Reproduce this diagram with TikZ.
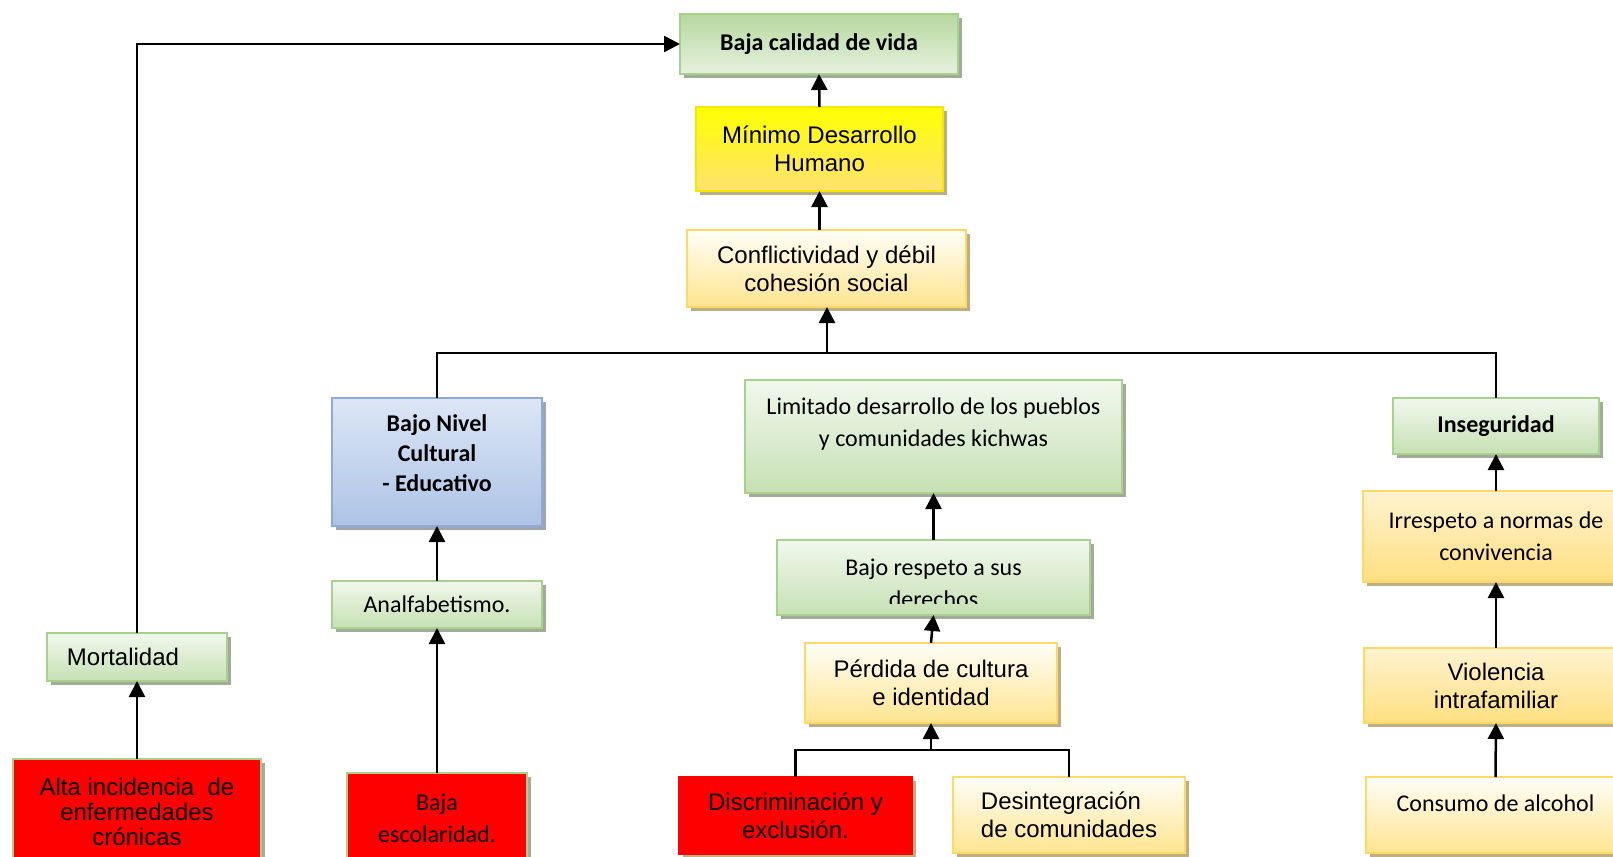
\documentclass[tikz,border=0pt]{standalone}
\usepackage{fontspec}
\setmainfont{Liberation Sans}
\newfontfamily\calfont{Carlito}
\usetikzlibrary{shadows,arrows.meta}

\definecolor{gbord}{HTML}{A9D18E}
\definecolor{gtop}{HTML}{F1F8ED}
\definecolor{gbot}{HTML}{C6E0B4}
\definecolor{gshad}{HTML}{A2AB97}
\definecolor{ybord}{HTML}{FFD966}
\definecolor{otop}{HTML}{FFFEF8}
\definecolor{obot}{HTML}{FFE48F}
\definecolor{o2top}{HTML}{FFF3D0}
\definecolor{o2bot}{HTML}{FFDF80}
\definecolor{yshad}{HTML}{BDAE84}
\definecolor{mtop}{HTML}{FFFF00}
\definecolor{mbot}{HTML}{FFE270}
\definecolor{mbord}{HTML}{F5E800}
\definecolor{btop}{HTML}{DCE6F5}
\definecolor{bbot}{HTML}{ADC3E6}
\definecolor{bbord}{HTML}{8EAADB}
\definecolor{bshad}{HTML}{9FA6B2}
\definecolor{rfill}{HTML}{FF0000}
\definecolor{grtop}{HTML}{B6D89F}
\definecolor{grbot}{HTML}{E6F1DF}

\newcommand\bx[7]{\node[#6, minimum width={(#4-#2)*0.5pt}, minimum height={(#5-#3)*0.5pt}] (#1) at ({(#2+#4)/2},{(#3+#5)/2}) {#7};}

\tikzset{
  basebox/.style={draw, line width=1pt, inner sep=0pt, outer sep=0pt, align=center,
    font=\fontsize{12}{14}\selectfont},
  cal/.style={font=\calfont\fontsize{12}{16}\selectfont},
  calbold/.style={font=\calfont\bfseries\fontsize{12}{15}\selectfont},
  gshadow/.style={drop shadow={shadow xshift=2pt, shadow yshift=-2pt, fill=gshad, opacity=1}},
  yshadow/.style={drop shadow={shadow xshift=2pt, shadow yshift=-2pt, fill=yshad, opacity=1}},
  gbox/.style={basebox, draw=gbord, top color=gtop, bottom color=gbot, gshadow},
  gboxr/.style={basebox, draw=gbord, top color=grtop, bottom color=grbot, gshadow},
  obox/.style={basebox, draw=ybord, top color=otop, bottom color=obot, yshadow},
  oboxb/.style={basebox, draw=ybord, top color=o2top, bottom color=o2bot, yshadow},
  ybox/.style={basebox, draw=mbord, top color=mtop, bottom color=mbot, yshadow},
  bbox/.style={basebox, draw=bbord, top color=btop, bottom color=bbot,
    drop shadow={shadow xshift=2pt, shadow yshift=-2pt, fill=bshad, opacity=1}},
  rbox/.style={basebox, draw=gbord, fill=rfill, gshadow},
  rboxr/.style={basebox, draw=rfill, fill=rfill, yshadow},
  line/.style={line width=1.25pt, black},
  conn/.style={line, -{Triangle[width=8pt,length=8pt]}}
}

\begin{document}
\begin{tikzpicture}[x=0.5pt, y=-0.5pt]
\useasboundingbox (0,0) rectangle (1613,857);
\clip (0,0) rectangle (1613,857);

% top chain
\bx{baja}{680}{14}{958}{74}{gboxr, calbold}{Baja calidad de vida}
\bx{minimo}{696}{107}{943}{191}{ybox}{Mínimo Desarrollo\\Humano}
\bx{conf}{687}{230}{966}{307}{obox}{Conflictividad y débil\\cohesión social}

% left branch
\bx{mort}{47}{633}{227}{681}{gbox}{Mortalidad\hspace*{14pt}}
\bx{alta}{13}{759}{261}{864}{rbox, font=\fontsize{12}{12.5}\selectfont}{Alta incidencia~ de\\enfermedades\\crónicas}

% education branch
\bx{bajonivel}{332}{398}{542}{526}{bbox, calbold}{Bajo Nivel\\Cultural\\- Educativo\\[-6pt]\mbox{}}
\bx{analf}{332}{581}{542}{628}{gbox, cal}{Analfabetismo.}
\bx{bajaesc}{347}{773}{527}{864}{rbox, cal}{Baja\\escolaridad.}

% middle branch
\bx{limit}{745}{380}{1122}{493}{gbox, cal}{Limitado desarrollo de los pueblos\\y comunidades kichwas\\[-2pt]\mbox{}}
\bx{bajoresp}{777}{540}{1090}{615}{gbox}{}
\begin{scope}
\clip (777,540) rectangle (1090,603);
\node[cal, align=center, anchor=north, inner sep=0pt] (bajoresptxt) at (933.5,559) {Bajo respeto a sus\\derechos};
\end{scope}
\bx{perdida}{805}{643}{1057}{723}{obox}{Pérdida de cultura\\e identidad}
\bx{discrim}{679}{777}{912}{854}{rboxr}{Discriminación y\\exclusión.}
\bx{desint}{953}{777}{1185}{853}{obox, align=left}{Desintegración\\de comunidades}

% right branch
\bx{insegur}{1393}{398}{1599}{454}{gbox, calbold}{Inseguridad}
\bx{irresp}{1363}{491}{1629}{582}{oboxb, cal}{Irrespeto a normas de\\convivencia}
\bx{violen}{1364}{648}{1628}{723}{oboxb}{Violencia\\intrafamiliar}
\bx{consumo}{1366}{777}{1625}{853}{obox, cal}{Consumo de alcohol\\[-4pt]\mbox{}}

% connectors
\draw[conn] (minimo.north) -- (baja.south);
\draw[conn] (minimo.south |- conf.north) -- (minimo.south);
\coordinate (jtop) at (827,353);
\draw[line] (bajonivel.north) |- (jtop) -| (insegur.north);
\draw[conn] (jtop) -- (jtop |- conf.south);
\draw[conn] (analf.north) -- (bajonivel.south);
\draw[conn] (bajaesc.north) -- (analf.south);
\draw[conn] (alta.north) -- (mort.south);
\draw[conn] (mort.north) |- (baja.west);
\draw[conn] (bajoresp.north) -- (limit.south);
\draw[conn] (perdida.north) -- (bajoresp.south);
\coordinate (jbot) at (931,750);
\draw[line] (discrim.north) |- (jbot) -| (desint.north);
\draw[conn] (jbot) -- (perdida.south);
\draw[conn] (irresp.north) -- (insegur.south);
\draw[conn] (violen.north) -- (irresp.south);
\draw[conn] (consumo.north) -- (violen.south);
\end{tikzpicture}
\end{document}
